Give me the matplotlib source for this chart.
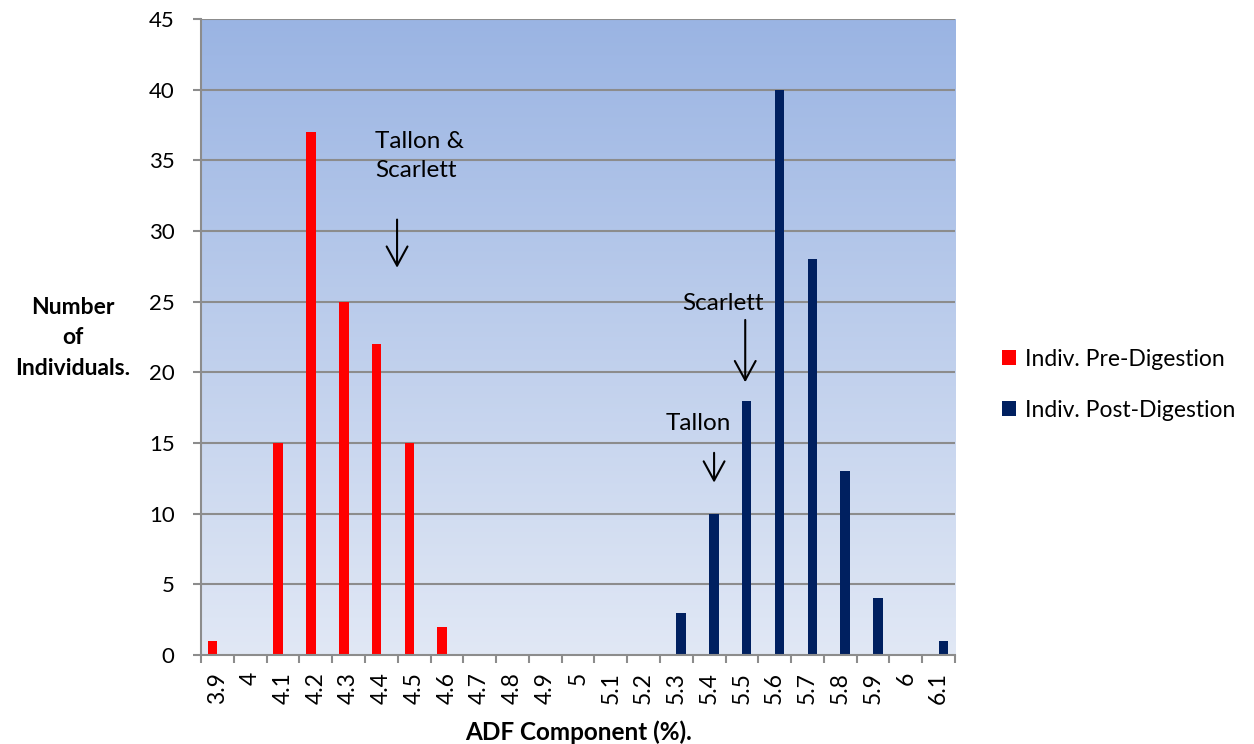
import numpy as np
import matplotlib.pyplot as plt
from matplotlib import rcParams
from matplotlib.colors import LinearSegmentedColormap

rcParams['font.family'] = ['Lato', 'DejaVu Sans']
rcParams['font.size'] = 17.5

categories = ['3.9', '4', '4.1', '4.2', '4.3', '4.4', '4.5', '4.6', '4.7',
              '4.8', '4.9', '5', '5.1', '5.2', '5.3', '5.4', '5.5', '5.6',
              '5.7', '5.8', '5.9', '6', '6.1']
pre_digestion = [1, 0, 15, 37, 25, 22, 15, 2, 0, 0, 0, 0, 0, 0,
                 0, 0, 0, 0, 0, 0, 0, 0, 0]
post_digestion = [0, 0, 0, 0, 0, 0, 0, 0, 0, 0, 0, 0, 0, 0,
                  3, 10, 18, 40, 28, 13, 4, 0, 1]


def draw_chart() -> None:
    '''Clustered histogram of ADF component before and after digestion'''
    fig = plt.figure(figsize=(12.54, 7.44), dpi=100)
    ax = fig.add_axes([0.1603, 0.1196, 0.6013, 0.855])
    x = np.arange(len(categories))
    n = len(categories)

    # gradient background, dark blue at top fading to pale at bottom
    cmap = LinearSegmentedColormap.from_list('bg', ['#e1e8f5', '#9ab4e3'])
    grad = np.linspace(0, 1, 256).reshape(-1, 1)
    ax.imshow(grad, cmap=cmap, aspect='auto', origin='lower',
              extent=[-0.5, n - 0.5, 0, 45], zorder=0)

    for yv in range(5, 50, 5):
        ax.axhline(yv, color='#8c8c8c', lw=1.5, zorder=1)

    width = 0.29
    ax.bar(x - width / 2, pre_digestion, width, color='#ff0000',
           label='Indiv. Pre-Digestion', zorder=2)
    ax.bar(x + width / 2, post_digestion, width, color='#002060',
           label='Indiv. Post-Digestion', zorder=2)

    ax.set_xlim(-0.5, n - 0.5)
    ax.set_ylim(0, 45)
    ax.set_yticks(range(0, 50, 5))
    ax.set_xticks(x)
    ax.set_xticklabels(categories, rotation=90)
    ax.set_xticks(np.arange(-0.5, n, 1), minor=True)
    ax.tick_params(axis='x', which='major', length=0, pad=12, labelsize=16.5)
    ax.tick_params(axis='x', which='minor', length=6, width=1.5,
                   color='#8c8c8c', direction='out')
    ax.tick_params(axis='y', length=6, width=1.5, color='#8c8c8c', pad=13,
                   labelsize=16)
    for side in ['top', 'right']:
        ax.spines[side].set_visible(False)
    for side in ['left', 'bottom']:
        ax.spines[side].set_color('#8c8c8c')
        ax.spines[side].set_linewidth(1.5)

    ax.set_xlabel('ADF Component (%).', fontweight='bold', labelpad=12)
    fig.text(0.058, 0.546, 'Number\nof\nIndividuals.', fontweight='bold',
             fontsize=16.5, ha='center', va='center', linespacing=1.55)

    # variety annotations
    arrow = dict(arrowstyle='->, head_length=0.55, head_width=0.3',
                 color='black', lw=1.5, mutation_scale=25)
    ax.text(4.8, 35.3, 'Tallon &\nScarlett', ha='left', va='center',
            linespacing=1.5)
    ax.annotate('', xy=(5.48, 27.2), xytext=(5.48, 31.0), arrowprops=arrow)
    ax.text(15.42, 24.9, 'Scarlett', ha='center', va='center')
    ax.annotate('', xy=(16.1, 19.1), xytext=(16.1, 23.9), arrowprops=arrow)
    ax.text(14.66, 16.4, 'Tallon', ha='center', va='center')
    ax.annotate('', xy=(15.15, 12.0), xytext=(15.15, 14.5), arrowprops=arrow)

    ax.legend(loc='center left', bbox_to_anchor=(1.035, 0.425), frameon=False,
              fontsize=16.5, handlelength=0.6, handleheight=0.6,
              handletextpad=0.4, labelspacing=1.3)

    fig.savefig('out.png', dpi=100)


if __name__ == '__main__':
    draw_chart()
